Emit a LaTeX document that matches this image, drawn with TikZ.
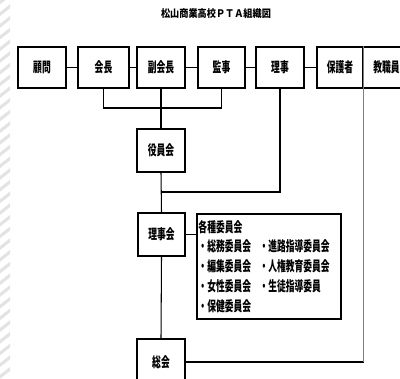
\documentclass[tikz,border=0pt]{standalone}
\usepackage{fontspec}
\newfontfamily\jpfont{Noto Sans CJK JP}[FakeStretch=0.63]
\newfontfamily\titlefont{Noto Sans CJK JP}[FakeStretch=0.88]
\begin{document}
\begin{tikzpicture}[x=0.025cm, y=-0.025cm,
  box/.style={draw, line width=1.1pt, inner sep=0pt, minimum width=1.2cm,
    minimum height=1.025cm, font=\jpfont\bfseries\fontsize{9.9}{14}\selectfont},
  link/.style={line width=0.75pt},
  stripe/.style={gray!22, line width=2.2pt}]
  \useasboundingbox (0,0) rectangle (400,379);
  \clip (0,0) rectangle (400,379);
  % hatched strip on the left
  \begin{scope}
    \clip (0,0) rectangle (10,379);
    \foreach \i [evaluate=\i as \y using \i*11.7-6] in {0,...,34}
      \draw[stripe] (-2,\y+10) -- (12,\y-1);
  \end{scope}
  \node[font=\titlefont\bfseries\fontsize{7.4}{8}\selectfont] (title) at (216,14) {松山商業高校ＰＴＡ組織図};
  % top row
  \node[box] (komon) at (42,67.5) {顧問};
  \node[box, minimum width=1.275cm] (kaicho) at (103.5,67.5) {会長};
  \node[box] (fuku) at (161,67.5) {副会長};
  \node[box, minimum width=1.175cm] (kanji) at (221.5,67.5) {監事};
  \node[box] (riji) at (280,67.5) {理事};
  \node[box, minimum width=1.15cm] (hogo) at (340,67.5) {保護者};
  \node[box, minimum width=1.175cm] (kyoshoku) at (386.5,67.5) {教職員};
  \draw[gray, line width=0.9pt] (hogo.north east) -- (hogo.south east);
  % column of meetings
  \node[box, minimum height=1.075cm] (yakuin) at (161,150.5) {役員会};
  \node[box, minimum width=1.175cm, minimum height=1.075cm] (rijikai) at (161.5,234.5) {理事会};
  \node[box, minimum height=1.15cm] (sokai) at (161,362) {総会};
  \node[box, minimum width=3.6cm, minimum height=2.625cm] (iinkai) at (269,266.5) {};
  \node[anchor=north west, inner sep=0pt, font=\jpfont\bfseries\fontsize{9.9}{14}\selectfont]
    (iinkaitext) at ([shift={(2,5)}]iinkai.north west) {%
    \begin{tabular}{@{}l@{\hspace{6pt}}l@{}}
      \multicolumn{2}{@{}l@{}}{各種委員会}\\
      ・総務委員会 & ・進路指導委員会\\
      ・編集委員会 & ・人権教育委員会\\
      ・女性委員会 & ・生徒指導委員\\
      ・保健委員会 &
    \end{tabular}};
  % connectors
  \draw[link] (komon.east) -- (kaicho.west);
  \draw[link] (kaicho.east) -- (fuku.west);
  \draw[link] (fuku.east) -- (kanji.west);
  \draw[link] (kanji.east) -- (riji.west);
  \draw[link] (riji.east) -- (hogo.west);
  \draw[link] (kaicho.south) -- (kaicho.south |- 0,108) -| (kanji.south);
  \draw[link] (fuku.south) -- (yakuin.north);
  \draw[link] (yakuin.south) -- (rijikai.north);
  \coordinate (join) at (yakuin.south |- 0,192);
  \draw[link] (riji.south) |- (join);
  \draw[link] (rijikai.east) -- (rijikai.east -| iinkai.west);
  \draw[link] (rijikai.south) -- (sokai.north);
  \coordinate (corner) at (sokai.east -| hogo.south east);
  \draw[link] (sokai.east) -- (corner);
  \draw[link, gray] (corner) -- (hogo.south east);
\end{tikzpicture}
\end{document}
